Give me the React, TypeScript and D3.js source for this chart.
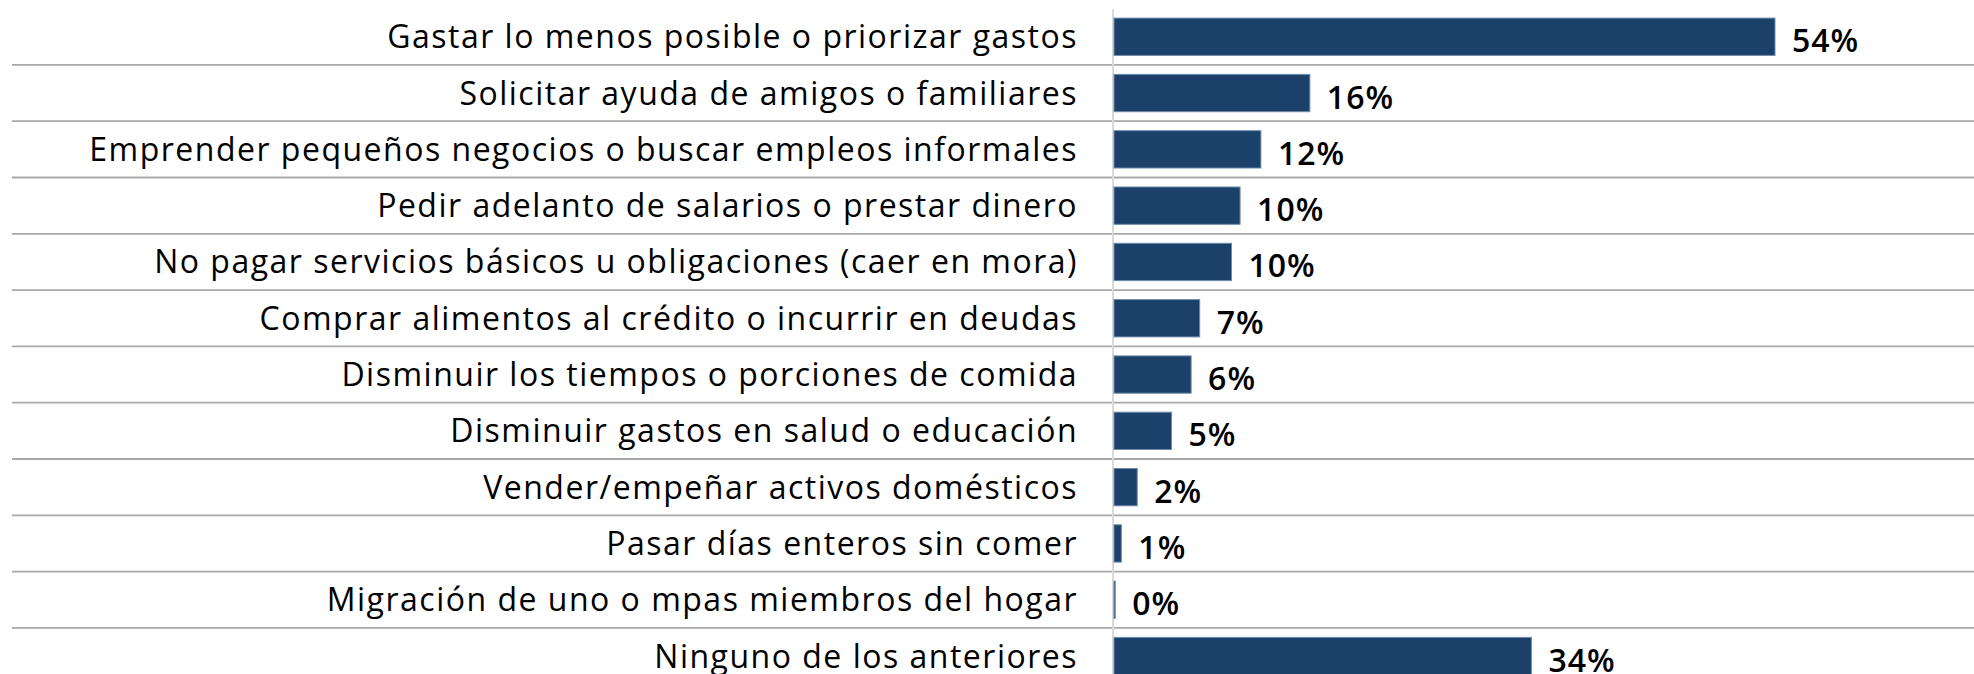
import React from "react";
import * as d3 from "d3";

const categories: string[] = [
  "Gastar lo menos posible o priorizar gastos",
  "Solicitar ayuda de amigos o familiares",
  "Emprender pequeños negocios o buscar empleos informales",
  "Pedir adelanto de salarios o prestar dinero",
  "No pagar servicios básicos u obligaciones (caer en mora)",
  "Comprar alimentos al crédito o incurrir en deudas",
  "Disminuir los tiempos o porciones de comida",
  "Disminuir gastos en salud o educación",
  "Vender/empeñar activos domésticos",
  "Pasar días enteros sin comer",
  "Migración de uno o mpas miembros del hogar",
  "Ninguno de los anteriores",
];

const values: number[] = [54, 16, 12, 10.3, 9.6, 7, 6.3, 4.7, 1.9, 0.6, 0.1, 34.1];

const W = 1974;
const H = 674;
const FONT = "'Open Sans', 'Noto Sans', sans-serif";

export default function App() {
  const x = d3.scaleLinear().domain([0, 54]).range([1114, 1775]);
  const y = d3
    .scaleBand<string>()
    .domain(categories)
    .range([8.6, 8.6 + 56.3 * categories.length])
    .paddingInner(0.337)
    .paddingOuter(0.1685);
  const step = y.step();
  const fmt = (v: number) => `${d3.format(".0f")(v)}%`;

  return (
    <svg
      width={W}
      height={H}
      style={{ position: "absolute", left: 0, top: 0, background: "#fff" }}
      fontFamily={FONT}
    >
      {/* separators */}
      {categories.slice(0, -1).map((c, i) => {
        const yy = (y(c) as number) + y.bandwidth() + (step - y.bandwidth()) / 2;
        return (
          <line key={"s" + i} x1={12} x2={W} y1={yy} y2={yy} stroke="#a9a9a9" strokeWidth={1.8} />
        );
      })}
      {/* axis line */}
      <line x1={1113} x2={1113} y1={9} y2={H} stroke="#d9d9d9" strokeWidth={2} />
      {/* bars */}
      {categories.map((c, i) => (
        <rect
          key={"b" + i}
          x={x(0)}
          y={y(c) as number}
          width={Math.max(0.5, x(values[i]) - x(0))}
          height={y.bandwidth()}
          fill="#1b416b"
          stroke="#6f8cab"
          strokeWidth={1}
        />
      ))}
      {/* category labels */}
      {categories.map((c, i) => (
        <text
          key={"c" + i}
          x={1078}
          y={(y(c) as number) + y.bandwidth() / 2}
          dy="0.36em"
          textAnchor="end"
          fontSize={32}
          letterSpacing={1.5}
          fill="#000"
        >
          {c}
        </text>
      ))}
      {/* value labels */}
      {categories.map((c, i) => (
        <text
          key={"v" + i}
          x={x(values[i]) + 17}
          y={(y(c) as number) + y.bandwidth() / 2 + 4}
          dy="0.36em"
          textAnchor="start"
          fontSize={32}
          fontWeight={600}
          letterSpacing={1}
          fill="#000"
        >
          {fmt(values[i])}
        </text>
      ))}
    </svg>
  );
}
